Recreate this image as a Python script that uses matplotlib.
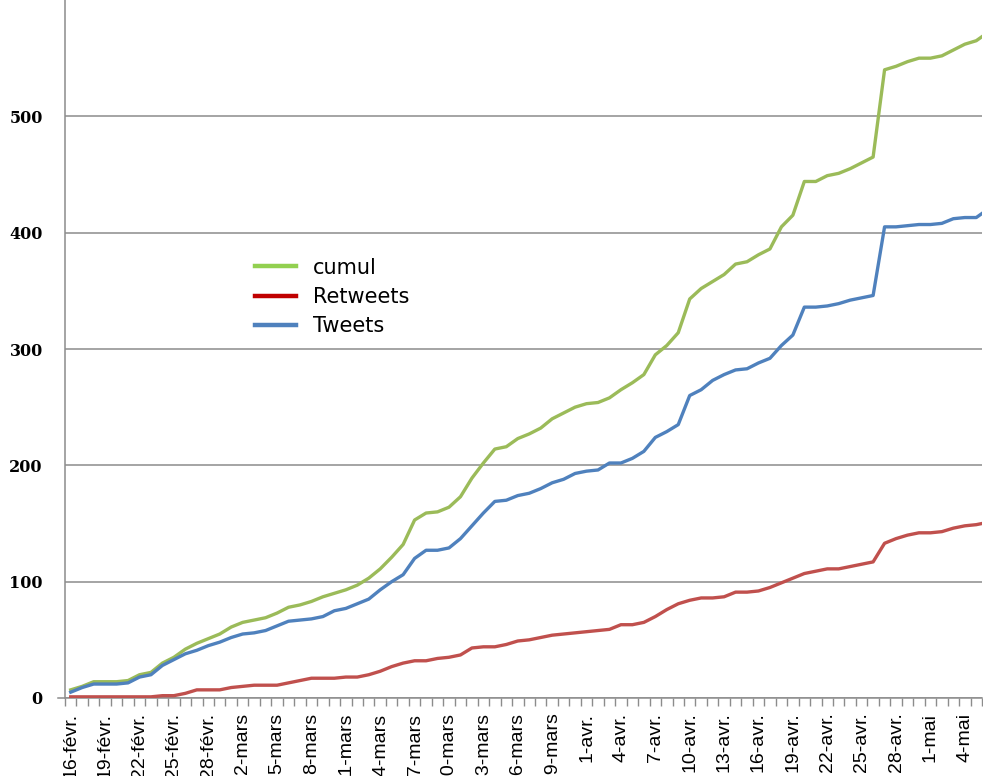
import numpy as np
import pandas as pd
import matplotlib
matplotlib.use("Agg")
from matplotlib import pyplot as plt
from matplotlib.lines import Line2D

# daily counts, 16 Feb 2012 -> 6 May 2012
tweets = [5, 9, 12, 12, 12, 13, 18, 20, 28, 33,
          38, 41, 45, 48, 52, 55, 56, 58, 62, 66,
          67, 68, 70, 75, 77, 81, 85, 93, 100, 106,
          120, 127, 127, 129, 137, 148, 159, 169, 170, 174,
          176, 180, 185, 188, 193, 195, 196, 202, 202, 206,
          212, 224, 229, 235, 260, 265, 273, 278, 282, 283,
          288, 292, 303, 312, 336, 336, 337, 339, 342, 344,
          346, 405, 405, 406, 407, 407, 408, 412, 413, 413, 420]
retweets = [1, 1, 1, 1, 1, 1, 1, 1, 2, 2,
            4, 7, 7, 7, 9, 10, 11, 11, 11, 13,
            15, 17, 17, 17, 18, 18, 20, 23, 27, 30,
            32, 32, 34, 35, 37, 43, 44, 44, 46, 49,
            50, 52, 54, 55, 56, 57, 58, 59, 63, 63,
            65, 70, 76, 81, 84, 86, 86, 87, 91, 91,
            92, 95, 99, 103, 107, 109, 111, 111, 113, 115,
            117, 133, 137, 140, 142, 142, 143, 146, 148, 149, 151]
cumul = [7, 10, 14, 14, 14, 15, 20, 22, 30, 35,
         42, 47, 51, 55, 61, 65, 67, 69, 73, 78,
         80, 83, 87, 90, 93, 97, 103, 111, 121, 132,
         153, 159, 160, 164, 173, 189, 202, 214, 216, 223,
         227, 232, 240, 245, 250, 253, 254, 258, 265, 271,
         278, 295, 303, 314, 343, 352, 358, 364, 373, 375,
         381, 386, 405, 415, 444, 444, 449, 451, 455, 460,
         465, 540, 543, 547, 550, 550, 552, 557, 562, 565, 572]

dates = pd.date_range("2012-02-16", periods=len(tweets))
mois = {2: "févr.", 3: "mars", 4: "avr.", 5: "mai"}
day_labels = ["%d-%s" % (d.day, mois[d.month]) for d in dates]

grey = "#8c8c8c"
fig = plt.figure(figsize=(9.83, 7.76), dpi=100)
ax = fig.add_axes([65 / 983, 78 / 776, 917 / 983, 698 / 776])

x = np.arange(len(tweets))
ax.plot(x, cumul, color="#9bbb59", lw=2.4, zorder=3)
ax.plot(x, retweets, color="#c0504d", lw=2.4, zorder=3)
ax.plot(x, tweets, color="#4f81bd", lw=2.4, zorder=3)

ax.set_xlim(-0.5, 79.5)
ax.set_ylim(0, 600)

# y axis
ax.set_yticks(range(0, 600, 100))
ax.yaxis.grid(True, color=grey, lw=1.1)
ax.set_axisbelow(True)
ax.tick_params(axis="y", length=0, pad=16)
for t in ax.get_yticklabels():
    t.set_fontfamily("DejaVu Serif")
    t.set_fontweight("bold")
    t.set_fontsize(11.5)

# x axis: tick marks between days, labels every 3 days
ax.set_xticks(np.arange(-0.5, 80, 1))
ax.set_xticklabels([])
ax.tick_params(axis="x", which="major", length=6, color=grey, width=1)
lab_pos = x[:80:3]
ax.set_xticks(lab_pos, [day_labels[i] for i in lab_pos], minor=True)
ax.tick_params(axis="x", which="minor", length=0, pad=10.5, labelrotation=90)
for t in ax.get_xticklabels(minor=True):
    t.set_fontfamily("Liberation Sans")
    t.set_fontsize(14)

for s in ["top", "right"]:
    ax.spines[s].set_visible(False)
ax.spines["left"].set_color(grey)
ax.spines["bottom"].set_color(grey)
ax.spines["left"].set_linewidth(1.1)
ax.spines["bottom"].set_linewidth(1.1)
ax.spines["bottom"].set_bounds(-1.1, 79.5)

handles = [Line2D([], [], color="#92d050", lw=3.2),
           Line2D([], [], color="#c00000", lw=3.2),
           Line2D([], [], color="#4f81bd", lw=3.2)]
fig.legend(handles, ["cumul", "Retweets", "Tweets"], loc="center left",
           bbox_to_anchor=(255 / 983, 1 - 297 / 776), frameon=False,
           borderpad=0, borderaxespad=0, handlelength=1.95, handletextpad=0.85,
           labelspacing=0.45, prop={"family": "DejaVu Sans", "size": 15})

fig.savefig("out.png", dpi=100)
